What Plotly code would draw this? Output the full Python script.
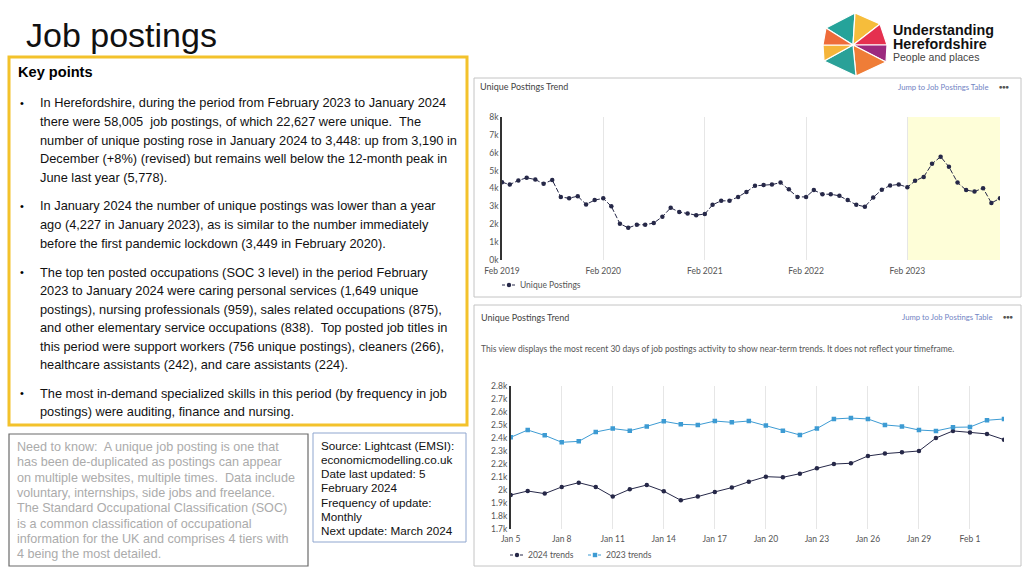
import plotly.graph_objects as go
import pandas as pd

W, H = 1024, 576
def px(x): return x / W
def py(y): return 1 - y / H

# ---------------- data ----------------
months = pd.date_range("2019-02-01", "2024-01-01", freq="MS")
unique_postings = [4350, 4220, 4450, 4600, 4500, 4260, 4480, 3520, 3460, 3570, 3110, 3350,
                   3449, 3000, 2030, 1800, 1970, 1970, 2070, 2420, 2920, 2680, 2600, 2510,
                   2570, 3090, 3310, 3310, 3530, 3810, 4150, 4200, 4220, 4330, 3960, 3530,
                   3530, 3910, 3680, 3680, 3590, 3350, 3090, 2980, 3500, 3930, 4170, 4227,
                   4070, 4430, 4650, 5380, 5778, 5210, 4330, 3910, 3830, 4020, 3190, 3448]
top_yticks = [0, 1000, 2000, 3000, 4000, 5000, 6000, 7000, 8000]
top_yticklabels = ["0k", "1k", "2k", "3k", "4k", "5k", "6k", "7k", "8k"]

days = pd.date_range("2024-01-05", "2024-02-03", freq="D")
trend_2024 = [1963, 1994, 1974, 2025, 2058, 2025, 1951, 2007, 2040, 1992,
              1923, 1951, 1987, 2020, 2065, 2104, 2099, 2127, 2168, 2201,
              2207, 2263, 2281, 2291, 2301, 2401, 2455, 2444, 2432, 2388]
trend_2023 = [2406, 2462, 2421, 2368, 2375, 2447, 2473, 2457, 2490, 2529,
              2506, 2501, 2531, 2521, 2531, 2496, 2457, 2424, 2473, 2547,
              2554, 2547, 2501, 2490, 2462, 2455, 2483, 2485, 2537, 2547]
bot_yticks = [1700, 1800, 1900, 2000, 2100, 2200, 2300, 2400, 2500, 2600, 2700, 2800]
bot_yticklabels = ["1.7k", "1.8k", "1.9k", "2k", "2.1k", "2.2k", "2.3k", "2.4k", "2.5k", "2.6k", "2.7k", "2.8k"]

key_points = [
    ["In Herefordshire, during the period from February 2023 to January 2024",
     "there were 58,005  job postings, of which 22,627 were unique.  The",
     "number of unique posting rose in January 2024 to 3,448: up from 3,190 in",
     "December (+8%) (revised) but remains well below the 12-month peak in",
     "June last year (5,778)."],
    ["In January 2024 the number of unique postings was lower than a year",
     "ago (4,227 in January 2023), as is similar to the number immediately",
     "before the first pandemic lockdown (3,449 in February 2020)."],
    ["The top ten posted occupations (SOC 3 level) in the period February",
     "2023 to January 2024 were caring personal services (1,649 unique",
     "postings), nursing professionals (959), sales related occupations (875),",
     "and other elementary service occupations (838).  Top posted job titles in",
     "this period were support workers (756 unique postings), cleaners (266),",
     "healthcare assistants (242), and care assistants (224)."],
    ["The most in-demand specialized skills in this period (by frequency in job",
     "postings) were auditing, finance and nursing."],
]
need_to_know = [
    "Need to know:  A unique job posting is one that",
    "has been de-duplicated as postings can appear",
    "on multiple websites, multiple times.  Data include",
    "voluntary, internships, side jobs and freelance.",
    "The Standard Occupational Classification (SOC)",
    "is a common classification of occupational",
    "information for the UK and comprises 4 tiers with",
    "4 being the most detailed.",
]
source_lines = [
    "Source: Lightcast (EMSI):",
    "economicmodelling.co.uk",
    "Date last updated: 5",
    "February 2024",
    "Frequency of update:",
    "Monthly",
    "Next update: March 2024",
]

NAVY = "#262848"
BLUE = "#3d9bd3"
ARIAL = "Liberation Sans, Arial, sans-serif"
LATO = "Lato, sans-serif"

fig = go.Figure()

# ---------------- top chart ----------------
fig.add_trace(go.Scatter(
    x=months, y=unique_postings, mode="lines+markers", name="Unique Postings",
    line=dict(color=NAVY, width=1, dash="5px,2px"),
    marker=dict(color=NAVY, size=4.5, symbol="circle"),
    xaxis="x", yaxis="y", showlegend=False))

# ---------------- bottom chart ----------------
fig.add_trace(go.Scatter(
    x=days, y=trend_2024, mode="lines+markers", name="2024 trends",
    line=dict(color=NAVY, width=1),
    marker=dict(color=NAVY, size=4.5, symbol="circle"),
    xaxis="x2", yaxis="y2", showlegend=False))
fig.add_trace(go.Scatter(
    x=days, y=trend_2023, mode="lines+markers", name="2023 trends",
    line=dict(color=BLUE, width=1),
    marker=dict(color=BLUE, size=4.5, symbol="square"),
    xaxis="x2", yaxis="y2", showlegend=False))

tickfont = dict(family=LATO, size=8.5, color="#555")
fig.update_layout(
    width=W, height=H, margin=dict(l=0, r=0, t=0, b=0, pad=0, autoexpand=False),
    paper_bgcolor="white", plot_bgcolor="rgba(0,0,0,0)", showlegend=False,
    xaxis=dict(domain=[px(502), px(1000)], range=["2019-02-01", "2024-01-01"],
               type="date", tick0="2019-02-01", dtick="M12", tickformat="%b %Y",
               showgrid=True, gridcolor="#e6e6e6", gridwidth=1, showline=False,
               zeroline=False, ticks="", tickfont=tickfont, anchor="y", automargin=False,
               ticklabelstandoff=4),
    yaxis=dict(domain=[py(260), py(117)], range=[0, 8000],
               tickvals=top_yticks, ticktext=top_yticklabels,
               showgrid=False, zeroline=False, showline=True, linecolor="#333",
               linewidth=1.5, ticks="", tickfont=tickfont, anchor="x", automargin=False),
    xaxis2=dict(domain=[px(510.7), px(1004)], range=["2024-01-05", "2024-02-03"],
                type="date", tick0="2024-01-05", dtick=3 * 86400000, tickformat="%b %-d",
                showgrid=True, gridcolor="#e6e6e6", gridwidth=1, showline=False,
                zeroline=False, ticks="", tickfont=tickfont, anchor="y2", automargin=False,
                ticklabelstandoff=3),
    yaxis2=dict(domain=[py(529.3), py(386)], range=[1700, 2800],
                tickvals=bot_yticks, ticktext=bot_yticklabels,
                showgrid=False, zeroline=False, showline=True, linecolor="#333",
                linewidth=1.5, ticks="", tickfont=tickfont, anchor="x2", automargin=False),
)

shapes = []
# highlighted period in top chart
shapes.append(dict(type="rect", xref="x", yref="y", x0="2023-02-01", x1="2024-01-01",
                   y0=0, y1=8000, fillcolor="#fefed8", line=dict(width=0), layer="below"))
# chart panels
for (x0, y0, x1, y1) in [(474, 78, 1021, 297), (474, 305, 1021, 566)]:
    shapes.append(dict(type="rect", xref="paper", yref="paper", x0=px(x0), x1=px(x1),
                       y0=py(y1), y1=py(y0), line=dict(color="#c4c4c4", width=1),
                       layer="below"))
# key points box
shapes.append(dict(type="rect", xref="paper", yref="paper", x0=px(9), x1=px(467),
                   y0=py(425), y1=py(57), line=dict(color="#f3c22b", width=3)))
# need to know box
shapes.append(dict(type="rect", xref="paper", yref="paper", x0=px(9), x1=px(308),
                   y0=py(566), y1=py(434), line=dict(color="#6a6a6a", width=1.2)))
# source box
shapes.append(dict(type="rect", xref="paper", yref="paper", x0=px(313), x1=px(466),
                   y0=py(542), y1=py(433), line=dict(color="#8fa6cf", width=1)))

# logo hexagon (approximation)
cx, cy = 853, 45
hexpts = [(826, 28), (855, 13), (880, 24), (887, 45), (886, 62), (856, 76), (824, 61), (823, 45)]
logo_cols = ["#25a39a", "#f6bd3b", "#e5304f", "#9c2a7e", "#ef7d37", "#2aa198", "#f5b53a", "#ee6c3a"]
for i in range(len(hexpts)):
    a = hexpts[i]
    b = hexpts[(i + 1) % len(hexpts)]
    path = "M {} {} L {} {} L {} {} Z".format(px(cx), py(cy), px(a[0]), py(a[1]), px(b[0]), py(b[1]))
    shapes.append(dict(type="path", xref="paper", yref="paper", path=path,
                       fillcolor=logo_cols[i], line=dict(color="white", width=1.2)))

ann = []
def txt(x, y, s, size, color="#000", family=ARIAL, xanchor="left", yanchor="middle"):
    ann.append(dict(x=px(x), y=py(y), xref="paper", yref="paper", text=s, showarrow=False,
                    xanchor=xanchor, yanchor=yanchor, align=xanchor if xanchor != "middle" else "center",
                    font=dict(size=size, color=color, family=family)))

# compact legends (short dashed symbol + marker, like the reference)
def legend_item(x, y, name, color, marker):
    shapes.append(dict(type="line", xref="paper", yref="paper", x0=px(x), x1=px(x + 14),
                       y0=py(y), y1=py(y), line=dict(color=color, width=1, dash="3px,2px")))
    r = 2.2
    shapes.append(dict(type="circle" if marker == "circle" else "rect", xref="paper", yref="paper",
                       x0=px(x + 7 - r), x1=px(x + 7 + r), y0=py(y + r), y1=py(y - r),
                       fillcolor=color, line=dict(width=0)))
    txt(x + 16, y, name, 8.5, "#555", LATO)

legend_item(502, 285, "Unique Postings", NAVY, "circle")
legend_item(510, 555, "2024 trends", NAVY, "circle")
legend_item(588, 555, "2023 trends", BLUE, "square")

fig.update_layout(shapes=shapes)

txt(24, 35, "Job postings", 34, "#111")
txt(891, 30.5, "<b>Understanding</b>", 14.3, "#111")
txt(891, 43.5, "<b>Herefordshire</b>", 14.3, "#111")
txt(891, 57.5, "People and places", 10.5, "#444")

txt(16, 72, "<b>Key points</b>", 14.6, "#000")
para_start = [103, 206, 272, 393]
for p, lines in enumerate(key_points):
    y0 = para_start[p]
    txt(18, y0, "•", 11, "#000")
    for i, line in enumerate(lines):
        txt(38, y0 + 18.5 * i, line, 12.8, "#111")

for i, line in enumerate(need_to_know):
    txt(15, 447 + 15.3 * i, line, 12.6, "#ababab")
for i, line in enumerate(source_lines):
    txt(319, 445 + 14.3 * i, line, 11.7, "#111")

# chart panel headers
txt(478, 87, "Unique Postings Trend", 9.0, "#444", LATO)
txt(990, 87, "Jump to Job Postings Table", 7.7, "#7284c4", LATO, xanchor="right")
txt(1012, 87, "<b>●●●</b>", 5.5, "#555", LATO, xanchor="right")
txt(479, 317, "Unique Postings Trend", 9.0, "#444", LATO)
txt(994, 317, "Jump to Job Postings Table", 7.7, "#7284c4", LATO, xanchor="right")
txt(1016, 317, "<b>●●●</b>", 5.5, "#555", LATO, xanchor="right")
txt(479, 349, "This view displays the most recent 30 days of job postings activity to show near-term trends. It does not reflect your timeframe.",
    8.5, "#555", LATO)

fig.update_layout(annotations=ann)
fig.write_html("out.html", config={"displayModeBar": False},
               post_script="document.body.style.margin='0';document.body.style.padding='0';")
